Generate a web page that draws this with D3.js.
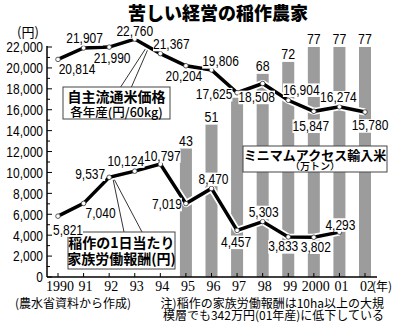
<!DOCTYPE html>
<html>
<head>
<meta charset="utf-8">
<script src="https://cdn.jsdelivr.net/npm/d3@7"></script>
<style>
    body { margin: 0; background: #fff; }
    svg { display: block; }
</style>
</head>
<body>
<svg id="chart_svg" width="400" height="324"></svg>
<script>
// data
const g_years = [1990, 1991, 1992, 1993, 1994, 1995, 1996, 1997, 1998, 1999, 2000, 2001, 2002];
const g_year_labels = ["1990", "91", "92", "93", "94", "95", "96", "97", "98", "99", "2000", "01", "02"];
const g_price = [20814, 21907, 21990, 22760, 21367, 20204, 19806, 17625, 18508, 16904, 15847, 16274, 15780]; // 円/60kg
const g_labor_years = [1990, 1991, 1992, 1993, 1994, 1995, 1996, 1997, 1998, 1999, 2000, 2001];
const g_labor = [5821, 7040, 9537, 10124, 10797, 7019, 8470, 4457, 5303, 3833, 3802, 4293]; // 円/日
const g_ma_years = [1995, 1996, 1997, 1998, 1999, 2000, 2001, 2002];
const g_ma = [43, 51, 60, 68, 72, 77, 77, 77]; // 万トン (97, label hidden by line)
const g_y_ticks = [0, 2000, 4000, 6000, 8000, 10000, 12000, 14000, 16000, 18000, 20000, 22000];

// label offsets from point (layout only)
const g_price_off = [[19, 9], [1, -10], [3, 10], [0, -8], [11, -10], [-2, 10], [9, -9], [-23, 1], [-6, 13], [13, -11], [-3, 14], [-1, -10], [5, 13]];
const g_labor_off = [[10, 13], [17, 9], [-19, -4], [-9, -11], [2, -9], [-19, 0], [2, -10], [-1, 11], [1, -10], [-5, 9], [2, 9], [1, -8]];
const g_ma_no_label = [1997];

const NUM_FONT = "'Liberation Sans', Arial, sans-serif";
const NUM_SCALE = 0.8; // condensed look
const JP_FONT = "'Noto Sans CJK JP', 'Noto Sans', sans-serif";
const BAR_COLOR = "#9c9c9c";

var svg = d3.select("#chart_svg");

// scales
var x = d3.scaleLinear().domain([1990, 2002]).range([58, 365]);
var y = d3.scaleLinear().domain([0, 22000]).range([277, 47]);
var y_bar = d3.scaleLinear().domain([0, 77]).range([277, 47]);

function narrow(p_x, p_y) { return "translate(" + p_x + "," + p_y + ") scale(" + NUM_SCALE + ",1)"; }

// title
svg.append("text").attr("x", 218).attr("y", 20).attr("text-anchor", "middle")
    .style("font-family", JP_FONT).style("font-weight", 900).style("font-size", "18px")
    .text("苦しい経営の稲作農家");

// bars (minimum access rice)
var ma_data = g_ma_years.map((yr, i) => ({ year: yr, value: g_ma[i] }));
svg.selectAll(".ma_bar").data(ma_data).join("rect").classed("ma_bar", true)
    .attr("x", d => x(d.year) - 6).attr("width", 12)
    .attr("y", d => y_bar(d.value)).attr("height", d => y_bar(0) - y_bar(d.value))
    .attr("fill", BAR_COLOR);
svg.selectAll(".ma_lbl").data(ma_data.filter(d => g_ma_no_label.indexOf(d.year) < 0)).join("text").classed("ma_lbl", true)
    .attr("transform", d => narrow(x(d.year), y_bar(d.value) - 3))
    .attr("text-anchor", "middle").style("font-family", NUM_FONT).style("font-size", "15.5px")
    .text(d => d.value);

// y axis
svg.append("line").attr("x1", 47).attr("x2", 47).attr("y1", y(0)).attr("y2", y(22000) - 1)
    .attr("stroke", "#000").attr("stroke-width", 1.5);
svg.selectAll(".ytick").data(d3.range(0, 22001, 1000)).join("line").classed("ytick", true)
    .attr("x1", 47).attr("x2", d => d % 2000 == 0 ? 52 : 50).attr("y1", d => y(d)).attr("y2", d => y(d))
    .attr("stroke", "#000").attr("stroke-width", 1);
svg.selectAll(".ylbl").data(g_y_ticks).join("text").classed("ylbl", true)
    .attr("transform", d => narrow(43, y(d))).attr("dy", "0.36em").attr("text-anchor", "end")
    .style("font-family", NUM_FONT).style("font-size", "15px")
    .text(d => d == 0 ? "0" : d3.format(",")(d));
svg.append("text").attr("x", 28).attr("y", 32).attr("dy", "0.36em").attr("text-anchor", "middle")
    .style("font-family", JP_FONT).style("font-size", "13px").text("(円)");

// x axis
svg.append("line").attr("x1", 47).attr("x2", 377).attr("y1", y(0)).attr("y2", y(0))
    .attr("stroke", "#000").attr("stroke-width", 1.5);
svg.selectAll(".xtick").data(g_years).join("line").classed("xtick", true)
    .attr("x1", d => x(d)).attr("x2", d => x(d)).attr("y1", y(0)).attr("y2", y(0) - 4)
    .attr("stroke", "#000").attr("stroke-width", 1);
svg.selectAll(".xlbl").data(g_years).join("text").classed("xlbl", true)
    .attr("x", d => x(d) + 2).attr("y", 291).attr("text-anchor", "middle")
    .style("font-family", "'Liberation Serif', serif").style("font-size", "14px")
    .text((d, i) => g_year_labels[i]);
svg.append("text").attr("x", 372).attr("y", 291)
    .style("font-family", JP_FONT).style("font-size", "12px").text("(年)");

// leader lines
var leaders = [[120, 88, 146, 48], [131, 88, 148, 49], [113, 179, 124, 232], [114, 179, 142, 232]];
svg.selectAll(".leader").data(leaders).join("line").classed("leader", true)
    .attr("x1", d => d[0]).attr("y1", d => d[1]).attr("x2", d => d[2]).attr("y2", d => d[3])
    .attr("stroke", "#000").attr("stroke-width", 0.8);

// lines
var line_gen = d3.line().x(d => x(d[0])).y(d => y(d[1]));
var price_pts = g_years.map((yr, i) => [yr, g_price[i]]);
var labor_pts = g_labor_years.map((yr, i) => [yr, g_labor[i]]);
[price_pts, labor_pts].forEach(function (pts) {
    svg.append("path").attr("d", line_gen(pts)).attr("fill", "none")
        .attr("stroke", "#fff").attr("stroke-width", 7).attr("stroke-linejoin", "round");
});
[price_pts, labor_pts].forEach(function (pts) {
    svg.append("path").attr("d", line_gen(pts)).attr("fill", "none")
        .attr("stroke", "#000").attr("stroke-width", 3.5).attr("stroke-linejoin", "miter");
    svg.append("g").selectAll("circle").data(pts).join("circle")
        .attr("cx", d => x(d[0])).attr("cy", d => y(d[1])).attr("r", 2.3)
        .attr("fill", "#fff").attr("stroke", "#333").attr("stroke-width", 0.8);
});

// legend boxes
function draw_box(p_x, p_y, p_w, p_h, p_lines) {
    svg.append("rect").attr("x", p_x).attr("y", p_y).attr("width", p_w).attr("height", p_h)
        .attr("fill", "#fff").attr("stroke", "#444").attr("stroke-width", 1);
    p_lines.forEach(function (ln) {
        svg.append("text").attr("x", ln.x).attr("y", ln.y).attr("dy", "0.36em")
            .attr("text-anchor", "middle")
            .style("font-family", JP_FONT).style("font-weight", ln.w).style("font-size", ln.s + "px")
            .text(ln.t);
    });
}
draw_box(63, 87, 107, 32, [
    { x: 116.5, y: 97, t: "自主流通米価格", s: 14, w: 700 },
    { x: 116.5, y: 112, t: "各年産(円/60kg)", s: 12.5, w: 500 }]);
draw_box(68, 232, 107, 37, [
    { x: 121.5, y: 243, t: "稲作の1日当たり", s: 14, w: 700 },
    { x: 121.5, y: 259, t: "家族労働報酬(円)", s: 14, w: 700 }]);
draw_box(243, 146, 144, 26, [
    { x: 315, y: 155, t: "ミニマムアクセス輸入米", s: 13, w: 700 },
    { x: 315, y: 166, t: "（万トン）", s: 10, w: 500 }]);

// data labels with white background
function draw_label(p_x, p_y, p_text) {
    var grp = svg.append("g").attr("transform", narrow(p_x, p_y));
    var rect = grp.append("rect").attr("fill", "#fff");
    var txt = grp.append("text").attr("dy", "0.36em")
        .attr("text-anchor", "middle").style("font-family", NUM_FONT).style("font-size", "15px")
        .text(p_text);
    var bb = txt.node().getBBox();
    rect.attr("x", bb.x).attr("y", bb.y + 2).attr("width", bb.width).attr("height", bb.height - 3);
}
price_pts.forEach(function (d, i) {
    draw_label(x(d[0]) + g_price_off[i][0], y(d[1]) + g_price_off[i][1], d3.format(",")(d[1]));
});
labor_pts.forEach(function (d, i) {
    draw_label(x(d[0]) + g_labor_off[i][0], y(d[1]) + g_labor_off[i][1], d3.format(",")(d[1]));
});

// footer
svg.append("text").attr("x", 15).attr("y", 308)
    .style("font-family", JP_FONT).style("font-size", "12px").text("(農水省資料から作成)");
svg.append("text").attr("x", 384).attr("y", 308).attr("text-anchor", "end")
    .style("font-family", JP_FONT).style("font-size", "12px").text("注)稲作の家族労働報酬は10ha以上の大規");
svg.append("text").attr("x", 384).attr("y", 320).attr("text-anchor", "end")
    .style("font-family", JP_FONT).style("font-size", "12px").text("模層でも342万円(01年産)に低下している");
</script>
</body>
</html>
